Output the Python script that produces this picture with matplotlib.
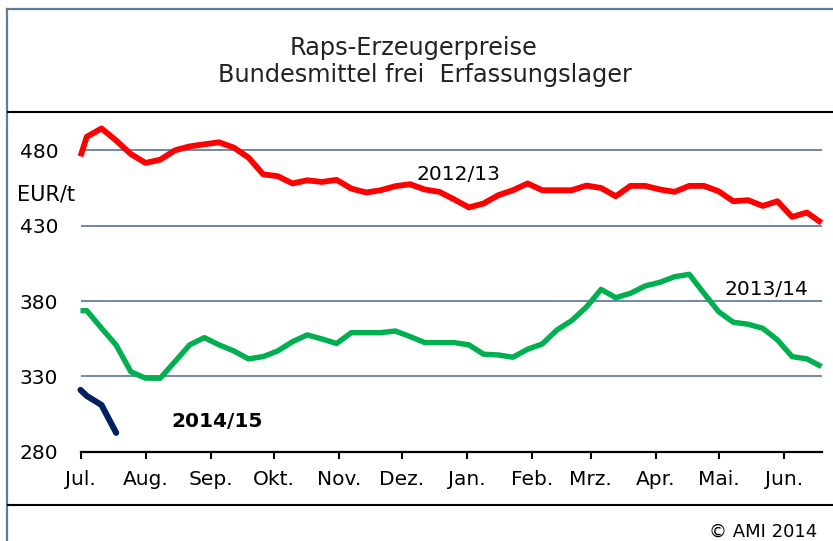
import numpy as np
import matplotlib
matplotlib.use("Agg")
import matplotlib.pyplot as plt
from matplotlib.lines import Line2D

W, H = 833, 541

# ---- data ----
month_labels = ["Jul.", "Aug.", "Sep.", "Okt.", "Nov.", "Dez.", "Jan.", "Feb.", "Mrz.", "Apr.", "Mai.", "Jun."]
month_days = [0, 31, 62, 92, 123, 153, 184, 215, 243, 274, 304, 335]
y_ticks = [280, 330, 380, 430, 480]

start_2012 = 476.0
prices_2012 = [489, 494.5, 486.5, 477.5, 471.6, 473.8, 480, 482.6, 484, 485.3,
               481.8, 475.2, 464.1, 462.8, 458, 460.1, 459, 460.4, 454.6, 452,
               453.5, 456.2, 457.5, 454, 452.4, 447.4, 442.1, 444.7, 450.2, 453.5,
               458, 453.5, 453.5, 453.5, 456.6, 455, 449.5, 456.4, 456.4, 454,
               452.4, 456.4, 456.4, 452.8, 446.2, 446.9, 443.1, 446.2, 435.8, 438.7,
               431.9]
start_2013 = 373.6
prices_2013 = [373.6, 362, 350.7, 333, 328.8, 328.8, 339.8, 350.9, 355.7, 350.9,
               346.9, 341.6, 343.1, 346.9, 353, 357.5, 354.8, 351.8, 359, 359,
               359, 360.1, 356.4, 352.4, 352.4, 352.4, 350.9, 344.7, 344.2, 342.7,
               348, 351.5, 360.8, 367, 376, 387.7, 382.2, 385.1, 390, 392.4,
               396.1, 397.7, 385.1, 372.9, 365.9, 364.6, 361.9, 354.2, 343.1, 341.6,
               336.5]
start_2014 = 321.0
prices_2014 = [317, 311, 292.5]

def days_for(n):
    # first point on 1 July, then weekly observations
    return np.concatenate([[0], 3 + 7 * np.arange(n)])

fig = plt.figure(figsize=(W / 100, H / 100), dpi=100)

def fx(x):
    return x / W

def fy(y):
    return 1 - y / H

# frame and separators
frame_col = "#5f7c99"
fig.add_artist(Line2D([fx(7), fx(7)], [fy(9), fy(H + 5)], color=frame_col, lw=1.6, transform=fig.transFigure))
fig.add_artist(Line2D([fx(7), fx(W + 5)], [fy(9), fy(9)], color=frame_col, lw=1.6, transform=fig.transFigure))
for yy in (112, 505):
    fig.add_artist(Line2D([fx(8), fx(W + 5)], [fy(yy), fy(yy)], color="black", lw=1.5, transform=fig.transFigure))

# title
fig.text(fx(414), fy(55), "Raps-Erzeugerpreise", ha="center", va="baseline",
         fontsize=17.3, family="DejaVu Sans", color="#222222")
fig.text(fx(425), fy(82), "Bundesmittel frei  Erfassungslager", ha="center", va="baseline",
         fontsize=17.3, family="DejaVu Sans", color="#222222")

# axes
left_px, right_px, bottom_px = 80.5, 821.5, 451.7
ppu = 1.507
ymax = 500
top_px = bottom_px - (ymax - 280) * ppu
ax = fig.add_axes([fx(left_px), fy(bottom_px), (right_px - left_px) / W, (bottom_px - top_px) / H])
ax.set_xlim(0, 353)
ax.set_ylim(280, ymax)

for s in ("top", "right", "left"):
    ax.spines[s].set_visible(False)
ax.spines["bottom"].set_color("black")
ax.spines["bottom"].set_linewidth(1.6)
ax.spines["bottom"].set_zorder(5)

ax.set_yticks(y_ticks)
ax.set_yticklabels([str(v) for v in y_ticks])
ax.tick_params(axis="y", length=0, pad=16, labelsize=14.5)
ax.set_xticks(month_days)
ax.set_xticklabels(month_labels)
ax.tick_params(axis="x", length=5, width=1.5, color="black", direction="out", pad=8, labelsize=14.5)
ax.grid(axis="y", color="#7088a5", lw=1.4)
ax.grid(axis="x", visible=False)
ax.set_axisbelow(True)

ax.plot(days_for(len(prices_2012)), [start_2012] + prices_2012, color="#ff0000", lw=4.2,
        solid_joinstyle="round", solid_capstyle="butt", clip_on=False, zorder=3)
ax.plot(days_for(len(prices_2013)), [start_2013] + prices_2013, color="#00b050", lw=3.9,
        solid_joinstyle="round", solid_capstyle="butt", clip_on=False, zorder=3)
ax.plot(days_for(len(prices_2014)), [start_2014] + prices_2014, color="#002060", lw=4.4,
        solid_joinstyle="round", solid_capstyle="round", clip_on=False, zorder=4)

ax.text(180, 460.3, "2012/13", ha="center", va="baseline", fontsize=14.5)
ax.text(327, 384.0, "2013/14", ha="center", va="baseline", fontsize=14.5)
ax.text(65, 296.6, "2014/15", ha="center", va="baseline", fontsize=14.5, fontweight="bold")

fig.text(fx(17), fy(200), "EUR/t", ha="left", va="baseline", fontsize=15)
fig.text(fx(817), fy(537), "© AMI 2014", ha="right", va="baseline", fontsize=13)

fig.savefig("out.png", dpi=100)
